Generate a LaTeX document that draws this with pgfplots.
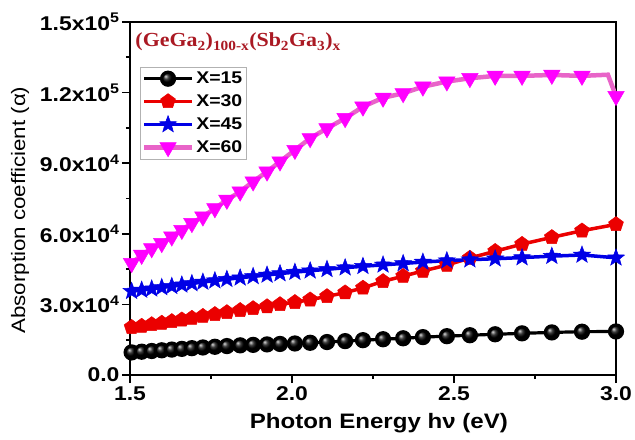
\documentclass[border=0pt]{standalone}
\usepackage{pgfplots}
\pgfplotsset{compat=1.18}
\usepackage{fontspec}
\setmainfont{Liberation Sans}[FakeStretch=1.15]
\newfontfamily\titlefont{Liberation Serif}[FakeStretch=1.1]
\usetikzlibrary{plotmarks}

\definecolor{titlered}{RGB}{170,25,35}
\definecolor{cred}{RGB}{235,0,0}
\definecolor{cblue}{RGB}{0,0,230}
\definecolor{pinkline}{RGB}{232,100,200}
\definecolor{cmag}{RGB}{255,0,255}

% filled five-pointed star
\pgfdeclareplotmark{fstar}{%
  \pgfpathmoveto{\pgfpointpolar{90}{\pgfplotmarksize}}%
  \pgfpathlineto{\pgfpointpolar{126}{0.42\pgfplotmarksize}}%
  \pgfpathlineto{\pgfpointpolar{162}{\pgfplotmarksize}}%
  \pgfpathlineto{\pgfpointpolar{198}{0.42\pgfplotmarksize}}%
  \pgfpathlineto{\pgfpointpolar{234}{\pgfplotmarksize}}%
  \pgfpathlineto{\pgfpointpolar{270}{0.42\pgfplotmarksize}}%
  \pgfpathlineto{\pgfpointpolar{306}{\pgfplotmarksize}}%
  \pgfpathlineto{\pgfpointpolar{342}{0.42\pgfplotmarksize}}%
  \pgfpathlineto{\pgfpointpolar{18}{\pgfplotmarksize}}%
  \pgfpathlineto{\pgfpointpolar{54}{0.42\pgfplotmarksize}}%
  \pgfpathclose
  \pgfusepathqfillstroke}

\pgfplotstableread{
x     a15   a30   a45   a60
1.505 9600  20300 35600 47500
1.536 9900  20800 36100 51000
1.567 10200 21500 36600 53800
1.598 10500 22100 37200 56000
1.629 10800 22800 37700 58800
1.660 11100 23500 38300 61600
1.691 11400 24200 38900 64500
1.725 11700 25000 39500 67300
1.762 12000 25800 40100 70800
1.799 12300 26600 40700 74400
1.840 12600 27500 41300 77900
1.880 12800 28300 41900 82200
1.923 13000 29100 42500 86400
1.963 13200 30000 43100 90700
2.009 13400 30900 43700 95600
2.056 13700 32000 44300 100600
2.108 14000 33400 44900 104800
2.164 14400 35000 45600 109100
2.219 14800 37000 46200 114000
2.281 15200 39800 46800 117800
2.343 15600 42000 47400 119700
2.404 16100 44200 48000 122500
2.478 16500 46700 48600 124700
2.549 16900 49700 49000 126100
2.627 17300 52600 49400 127100
2.710 17700 55600 49900 127100
2.802 18100 58500 50500 127500
2.895 18400 61300 51000 127100
3.000 18500 64000 49800 118500
}\data

\pgfplotstableread{
x     a60
1.505 47500
1.536 51000
1.567 53800
1.598 56000
1.629 58800
1.660 61600
1.691 64500
1.725 67300
1.762 70800
1.799 74400
1.840 77900
1.880 82200
1.923 86400
1.963 90700
2.009 95600
2.056 100600
2.108 104800
2.164 109100
2.219 114000
2.281 117800
2.343 119700
2.404 122500
2.478 124700
2.549 126100
2.627 127100
2.710 127100
2.802 127500
2.895 127100
2.975 127600
3.000 118500
}\pinkdata

\begin{document}
\begin{tikzpicture}
\begin{axis}[
    scale only axis,
    width=486bp, height=353bp,
    xmin=1.5, xmax=3.0,
    ymin=0, ymax=150000,
    xtick={1.5,2.0,2.5,3.0},
    xticklabels={1.5,2.0,2.5,3.0},
    minor xtick={1.75,2.25,2.75},
    ytick={0,30000,60000,90000,120000,150000},
    yticklabels={0.0,3.0x10\textsuperscript{4},6.0x10\textsuperscript{4},9.0x10\textsuperscript{4},1.2x10\textsuperscript{5},1.5x10\textsuperscript{5}},
    minor ytick={15000,45000,75000,105000,135000},
    scaled y ticks=false,
    tick align=outside,
    xtick pos=left, ytick pos=left,
    major tick length=8bp, minor tick length=4bp,
    every tick/.style={black, line width=1.6bp},
    axis line style={line width=2.2bp},
    tick label style={font=\bfseries\fontsize{20}{20}\selectfont},
    yticklabel style={xshift=1bp},
    xlabel={Photon Energy hν (eV)},
    xlabel style={at={(axis description cs:0.512,-0.152)}, anchor=base, font=\bfseries\fontsize{21}{21}\selectfont},
    ylabel={Absorption coefficient (α)},
    ylabel style={at={(axis description cs:-0.226,0.467)}, anchor=center, font=\fontsize{19.5}{19.5}\selectfont},
    legend cell align=left,
    legend image code/.code={\draw[#1, mark indices={2}] plot coordinates {(0bp,0bp) (24bp,0bp) (48bp,0bp)};},
    legend style={at={(0.0206,0.873)}, anchor=north west, draw=gray!60, line width=0.6bp,
        font=\bfseries\fontsize{17}{17}\selectfont, row sep=5.5bp, inner xsep=1.5bp, inner ysep=3bp},
]
\addplot[black, line width=3.2bp, mark=ball, mark size=6.5bp, mark options={ball color=black, solid}] table[x=x, y=a15] {\data};
\addlegendentry{X=15}
\addplot[cred, line width=3.5bp, mark=pentagon*, mark size=7.8bp, mark options={fill=cred, draw=cred, line width=0.5bp}] table[x=x, y=a30] {\data};
\addlegendentry{X=30}
\addplot[cblue, line width=3.5bp, mark=fstar, mark size=9bp, mark options={fill=cblue, draw=cblue, line width=0.5bp}] table[x=x, y=a45] {\data};
\addlegendentry{X=45}
\addplot[pinkline, line width=4.5bp, mark=triangle*, mark size=9.5bp,
    mark indices={1,2,3,4,5,6,7,8,9,10,11,12,13,14,15,16,17,18,19,20,21,22,23,24,25,26,27,28,30},
    mark options={fill=cmag, draw=cmag, rotate=180, line width=0.5bp}] table[x=x, y=a60] {\pinkdata};
\addlegendentry{X=60}
\node[anchor=west, text=titlered, font=\titlefont\bfseries\fontsize{20}{20}\selectfont]
    at (rel axis cs:0.004,0.943) {(GeGa\textsubscript{2})\textsubscript{100-x}(Sb\textsubscript{2}Ga\textsubscript{3})\textsubscript{x}};
\coordinate (bl) at (rel axis cs:0,0);
\coordinate (tr) at (rel axis cs:1,1);
\end{axis}
\pgfresetboundingbox
\useasboundingbox ([xshift=-130bp,yshift=-65bp]bl) rectangle ([xshift=19bp,yshift=22bp]tr);
\end{tikzpicture}
\end{document}
